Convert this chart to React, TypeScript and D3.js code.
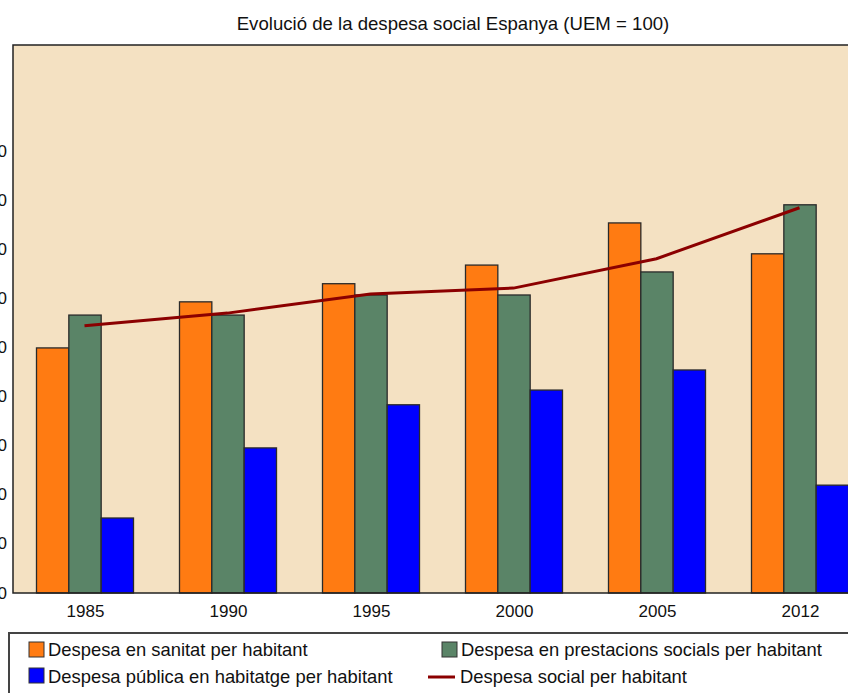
import React from "react";
import * as d3 from "d3";

const years = ["1985", "1990", "1995", "2000", "2005", "2012"];
const sanitat = [50.0, 59.4, 63.1, 66.9, 75.5, 69.2];
const prestacions = [56.7, 56.7, 60.8, 60.8, 65.5, 79.2];
const habitatge = [15.3, 29.6, 38.4, 41.4, 45.5, 22.0];
const social = [54.5, 57.1, 61.0, 62.2, 68.2, 78.6];
const yTicks = [0, 10, 20, 30, 40, 50, 60, 70, 80, 90];

const seriesNames = [
  "Despesa en sanitat per habitant",
  "Despesa en prestacions socials per habitant",
  "Despesa pública en habitatge per habitant",
];
const lineName = "Despesa social per habitant";
const title = "Evolució de la despesa social Espanya (UEM = 100)";

const W = 848;
const H = 693;
const plot = { left: 13, right: 871, top: 45, bottom: 593 };
const colors = ["#FF7B12", "#5A8467", "#0000FF"];
const lineColor = "#8B0000";
const bg = "#F4E1C2";
const font = "'Liberation Sans', Arial, sans-serif";

export default function App() {
  const x = d3.scaleBand<string>().domain(years).range([plot.left, plot.right]).padding(0);
  const inner = d3
    .scaleBand<string>()
    .domain(["0", "1", "2"])
    .range([-48.5, 48.5])
    .padding(0);
  const y = d3.scaleLinear().domain([0, 111.8]).range([plot.bottom, plot.top]);
  const all = [sanitat, prestacions, habitatge];
  const line = d3
    .line<number>()
    .x((_, i) => (x(years[i]) as number) + x.bandwidth() / 2)
    .y((d) => y(d));

  return (
    <svg
      width={W}
      height={H}
      style={{ position: "fixed", left: 0, top: 0, background: "#fff" }}
      fontFamily={font}
    >
      <text x={453} y={30} textAnchor="middle" fontSize={18.6} fill="#111">
        {title}
      </text>
      <rect
        x={plot.left}
        y={plot.top}
        width={plot.right - plot.left}
        height={plot.bottom - plot.top}
        fill={bg}
      />
      {years.map((yr, i) => {
        const cx = (x(yr) as number) + x.bandwidth() / 2 + 0.5;
        return (
          <g key={yr}>
            {all.map((s, k) => (
              <rect
                key={k}
                x={cx + (inner(String(k)) as number)}
                y={y(s[i])}
                width={inner.bandwidth()}
                height={y(0) - y(s[i])}
                fill={colors[k]}
                stroke="#2a2a2a"
                strokeWidth={1.3}
              />
            ))}
          </g>
        );
      })}
      <path d={line(social) || ""} fill="none" stroke={lineColor} strokeWidth={3} />
      <rect
        x={plot.left}
        y={plot.top}
        width={plot.right - plot.left}
        height={plot.bottom - plot.top}
        fill="none"
        stroke="#222"
        strokeWidth={1.5}
      />
      {yTicks.map((t) => (
        <text
          key={t}
          x={7}
          y={y(t)}
          textAnchor="end"
          dominantBaseline="central"
          fontSize={17}
          fill="#111"
        >
          {t}
        </text>
      ))}
      {years.map((yr) => (
        <text
          key={yr}
          x={(x(yr) as number) + x.bandwidth() / 2 + 1}
          y={617}
          textAnchor="middle"
          fontSize={17}
          fill="#111"
        >
          {yr}
        </text>
      ))}
      <rect x={9} y={633} width={900} height={100} fill="#fff" stroke="#444" strokeWidth={2} />
      <rect x={29} y={642} width={15} height={15} fill={colors[0]} stroke="#333" />
      <text x={48} y={656} fontSize={18.4} fill="#111">
        {seriesNames[0]}
      </text>
      <rect x={442} y={642} width={15} height={15} fill={colors[1]} stroke="#333" />
      <text x={461} y={656} fontSize={18.4} fill="#111">
        {seriesNames[1]}
      </text>
      <rect x={29} y={668} width={15} height={15} fill={colors[2]} stroke="#333" />
      <text x={48} y={683} fontSize={18.4} fill="#111">
        {seriesNames[2]}
      </text>
      <line x1={428} x2={455} y1={677} y2={677} stroke={lineColor} strokeWidth={3} />
      <text x={460} y={683} fontSize={18.4} fill="#111">
        {lineName}
      </text>
    </svg>
  );
}
